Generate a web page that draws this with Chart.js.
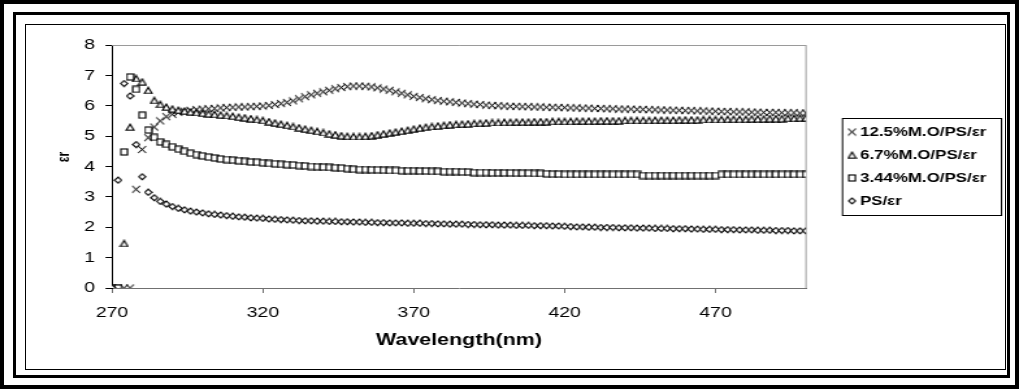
<!DOCTYPE html>
<html>
<head>
<meta charset="utf-8">
<script src="https://cdn.jsdelivr.net/npm/chart.js@4/dist/chart.umd.min.js"></script>
<style>
  html, body { margin: 0; padding: 0; background: #fff; overflow: hidden; }
  #wrap { position: relative; width: 1019px; height: 389px; }
  #c { position: absolute; left: 0; top: 0; width: 1019px; height: 389px; }
  .f { position: absolute; box-sizing: border-box; pointer-events: none; }
</style>
</head>
<body>
<div id="wrap">
  <canvas id="c" width="784" height="389" style="width:1019px;height:389px"></canvas>
  <div class="f" style="left:0;top:0;width:1019px;height:389px;border:4px solid #000"></div>
  <div class="f" style="left:13px;top:12px;width:997px;height:366px;border:3px solid #000"></div>
  <div class="f" style="left:25px;top:24px;width:981px;height:346px;border:1px solid #000"></div>
</div>
<script>
// ---- data ----
const wavelength = [
  270,272,274,276,278,280,282,284,286,288,
  290,292,294,296,298,300,302,304,306,308,
  310,312,314,316,318,320,322,324,326,328,
  330,332,334,336,338,340,342,344,346,348,
  350,352,354,356,358,360,362,364,366,368,
  370,372,374,376,378,380,382,384,386,388,
  390,392,394,396,398,400,402,404,406,408,
  410,412,414,416,418,420,422,424,426,428,
  430,432,434,436,438,440,442,444,446,448,
  450,452,454,456,458,460,462,464,466,468,
  470,472,474,476,478,480,482,484,486,488,
  490,492,494,496,498,500
];
const s12_5 = [
  0,0,0,0,3.25,4.56,4.95,5.30,5.50,5.64,
  5.72,5.78,5.82,5.85,5.87,5.89,5.90,5.91,5.93,5.94,
  5.95,5.96,5.96,5.97,5.98,5.99,6.01,6.04,6.07,6.11,
  6.16,6.23,6.30,6.36,6.41,6.46,6.51,6.56,6.60,6.63,
  6.65,6.65,6.64,6.62,6.59,6.55,6.51,6.46,6.41,6.36,
  6.31,6.27,6.23,6.20,6.17,6.15,6.13,6.11,6.09,6.07,
  6.05,6.04,6.02,6.01,6.00,5.99,5.98,5.98,5.97,5.97,
  5.96,5.96,5.95,5.95,5.94,5.94,5.93,5.93,5.92,5.92,
  5.91,5.91,5.90,5.90,5.89,5.89,5.89,5.88,5.88,5.87,
  5.87,5.86,5.86,5.85,5.85,5.84,5.84,5.83,5.83,5.82,
  5.82,5.81,5.81,5.80,5.80,5.80,5.79,5.79,5.78,5.78,
  5.78,5.77,5.77,5.77,5.76,5.76
];
const s6_7 = [
  0,0,1.47,5.30,6.90,6.79,6.51,6.18,6.05,5.96,
  5.90,5.86,5.83,5.80,5.78,5.76,5.74,5.72,5.70,5.68,
  5.66,5.63,5.61,5.58,5.55,5.52,5.48,5.44,5.40,5.36,
  5.32,5.28,5.24,5.20,5.16,5.12,5.08,5.05,5.02,5.00,
  4.99,4.99,5.00,5.02,5.05,5.08,5.11,5.14,5.17,5.20,
  5.24,5.27,5.30,5.32,5.34,5.36,5.38,5.39,5.40,5.41,
  5.42,5.43,5.44,5.45,5.45,5.46,5.46,5.47,5.47,5.47,
  5.48,5.48,5.48,5.49,5.49,5.49,5.49,5.50,5.50,5.50,
  5.50,5.51,5.51,5.51,5.51,5.52,5.52,5.52,5.52,5.52,
  5.53,5.53,5.53,5.53,5.54,5.54,5.54,5.54,5.55,5.55,
  5.55,5.55,5.56,5.56,5.56,5.56,5.57,5.57,5.57,5.58,
  5.58,5.58,5.59,5.59,5.60,5.60
];
const s3_44 = [
  0,0,4.48,6.95,6.54,5.69,5.20,4.96,4.81,4.73,
  4.65,4.57,4.50,4.44,4.39,4.35,4.31,4.28,4.25,4.23,
  4.21,4.19,4.17,4.15,4.14,4.12,4.10,4.09,4.07,4.06,
  4.05,4.03,4.02,4.00,3.99,3.98,3.97,3.96,3.95,3.93,
  3.91,3.90,3.90,3.89,3.89,3.88,3.87,3.87,3.86,3.86,
  3.86,3.85,3.85,3.84,3.84,3.83,3.83,3.83,3.82,3.82,
  3.80,3.80,3.80,3.79,3.79,3.79,3.79,3.78,3.78,3.78,
  3.77,3.77,3.76,3.75,3.75,3.74,3.74,3.74,3.74,3.74,
  3.74,3.74,3.74,3.74,3.74,3.74,3.74,3.74,3.70,3.70,
  3.70,3.70,3.70,3.70,3.70,3.70,3.70,3.70,3.70,3.70,
  3.70,3.74,3.74,3.74,3.74,3.74,3.74,3.74,3.74,3.74,
  3.74,3.74,3.74,3.74,3.74,3.74
];
const psOnly = [
  0,3.55,6.73,6.32,4.72,3.66,3.15,2.97,2.85,2.76,
  2.68,2.62,2.57,2.53,2.50,2.47,2.44,2.42,2.40,2.38,
  2.36,2.34,2.33,2.31,2.30,2.29,2.27,2.26,2.25,2.24,
  2.23,2.22,2.21,2.21,2.20,2.20,2.19,2.19,2.18,2.18,
  2.17,2.17,2.16,2.16,2.15,2.15,2.14,2.14,2.14,2.13,
  2.13,2.13,2.12,2.12,2.11,2.11,2.10,2.10,2.10,2.09,
  2.09,2.08,2.08,2.08,2.07,2.07,2.07,2.06,2.06,2.06,
  2.05,2.05,2.05,2.04,2.04,2.03,2.02,2.01,2.01,2.00,
  2.00,1.99,1.99,1.99,1.98,1.98,1.98,1.97,1.97,1.97,
  1.96,1.96,1.96,1.95,1.95,1.95,1.94,1.94,1.93,1.93,
  1.93,1.92,1.92,1.92,1.91,1.91,1.91,1.90,1.90,1.90,
  1.89,1.89,1.89,1.88,1.88,1.88
];
const seriesLabels = ['12.5%M.O/PS/\u03b5r', '6.7%M.O/PS/\u03b5r', '3.44%M.O/PS/\u03b5r', 'PS/\u03b5r'];
const xTickValues = [270, 320, 370, 420, 470];
const xMin = 270, xMax = 500;
const yMin = 0, yMax = 8;
const xTitle = 'Wavelength(nm)';
const yTitle = '\u03b5r';

// ---- styling ----
const S = 1019 / 784;            // horizontal stretch of the canvas
const FONT = "'Liberation Sans', Arial, sans-serif";

function makeMarker(kind, w, h, lw, color) {
  const R = 4, pad = 1;
  const W = w + 2 * pad, H = h + 2 * pad;
  const c = document.createElement('canvas');
  c.width = Math.round(W * R); c.height = Math.round(H * R);
  const g = c.getContext('2d');
  g.scale(R, R); g.translate(pad, pad);
  g.lineWidth = lw; g.strokeStyle = color; g.fillStyle = '#fff';
  g.lineJoin = 'miter';
  g.beginPath();
  if (kind === 'tri') { g.moveTo(w / 2, 0.3); g.lineTo(w, h); g.lineTo(0, h); g.closePath(); }
  else if (kind === 'sq') { g.rect(0, 0, w, h); }
  else if (kind === 'dia') { g.moveTo(w / 2, 0); g.lineTo(w, h / 2); g.lineTo(w / 2, h); g.lineTo(0, h / 2); g.closePath(); }
  else { g.moveTo(0, 0); g.lineTo(w, h); g.moveTo(w, 0); g.lineTo(0, h); }
  if (kind !== 'x') g.fill();
  g.stroke();
  const img = new Image();
  img.width = W; img.height = H;
  const p = new Promise(res => { img.onload = res; img.onerror = res; });
  img.src = c.toDataURL();
  return { img, p };
}
const markerDefs = [
  makeMarker('x',   6.4, 7.0, 0.9,  '#000'),
  makeMarker('tri', 6.0, 6.8, 1.15, '#000'),
  makeMarker('sq',  5.6, 6.0, 1.15, '#000'),
  makeMarker('dia', 5.8, 6.4, 1.15, '#000')
];
const drawOrder = [4, 3, 2, 1];
const seriesValues = [s12_5, s6_7, s3_44, psOnly];

const framePlugin = {
  id: 'frame',
  beforeDatasetsDraw(chart) {
    const { ctx, chartArea: a } = chart;
    ctx.save();
    ctx.strokeStyle = '#9a9a9a';
    ctx.lineWidth = 1;
    ctx.beginPath();
    ctx.moveTo(a.left, a.top + 0.5);
    ctx.lineTo(a.right, a.top + 0.5);
    ctx.moveTo(a.right, a.top);
    ctx.lineTo(a.right, a.bottom);
    ctx.stroke();
    ctx.restore();
  },
  afterDraw(chart) {
    const ctx = chart.ctx;
    ctx.save();
    ctx.fillStyle = '#000';
    ctx.font = "bold 12px " + FONT;
    ctx.textAlign = 'center';
    ctx.textBaseline = 'middle';
    ctx.translate(65 / S, 157);
    ctx.rotate(-Math.PI / 2);
    ctx.fillText(yTitle, 0, 0);
    ctx.restore();

    ctx.save();
    const lx = 842.5 / S, ly = 118.5, lw = (1001 - 842) / S, lh = 97;
    ctx.strokeStyle = '#000';
    ctx.lineWidth = 1;
    ctx.strokeRect(lx, ly, lw, lh);
    const rows = [132, 155, 178, 201];
    chart.data.datasets.forEach((ds, i) => {
      const y = rows[i];
      Chart.helpers.drawPoint(ctx, { pointStyle: ds.pointStyle, rotation: 0, radius: 4, borderWidth: 1 }, 852 / S, y);
      ctx.fillStyle = '#000';
      ctx.font = "bold 13px " + FONT;
      ctx.textAlign = 'left';
      ctx.textBaseline = 'middle';
      ctx.fillText(ds.label, 860 / S, y + 0.5);
    });
    ctx.restore();
  }
};

Promise.all(markerDefs.map(m => m.p)).then(() => {
  const datasets = seriesValues.map((vals, i) => ({
    label: seriesLabels[i],
    data: wavelength.map((w, k) => ({ x: w, y: vals[k] })),
    pointStyle: markerDefs[i].img,
    pointRadius: 4,
    pointBorderWidth: 1,
    pointBorderColor: '#000',
    pointBackgroundColor: '#fff',
    showLine: false,
    order: drawOrder[i]
  }));

  new Chart(document.getElementById('c'), {
    type: 'scatter',
    data: { datasets },
    options: {
      responsive: false,
      animation: false,
      events: [],
      layout: { padding: { left: 0, right: 784 - 806 / S, top: 45, bottom: 0 } },
      plugins: { legend: { display: false }, tooltip: { enabled: false } },
      scales: {
        x: {
          type: 'linear',
          min: xMin, max: xMax,
          afterBuildTicks: (axis) => { axis.ticks = xTickValues.map(v => ({ value: v })); },
          afterFit: (scale) => { scale.height = 389 - 288; },
          grid: { display: true, drawOnChartArea: false, drawTicks: true, tickLength: 5, color: '#707070', lineWidth: 1 },
          border: { display: true, color: '#707070', width: 1 },
          ticks: { color: '#000', font: { family: FONT, size: 15 }, padding: 11, maxRotation: 0, autoSkip: false },
          title: { display: true, text: xTitle, color: '#000', font: { family: FONT, size: 16.5, weight: 'bold' }, padding: { top: 0, bottom: 39 } }
        },
        y: {
          type: 'linear',
          min: yMin, max: yMax,
          afterFit: (scale) => { scale.width = 112 / S; },
          grid: { display: true, drawOnChartArea: false, drawTicks: true, tickLength: 5, color: '#000', lineWidth: 1 },
          border: { display: true, color: '#000', width: 1 },
          ticks: { stepSize: 1, color: '#000', font: { family: FONT, size: 15 }, padding: 8 }
        }
      }
    },
    plugins: [framePlugin]
  });
});
</script>
</body>
</html>
